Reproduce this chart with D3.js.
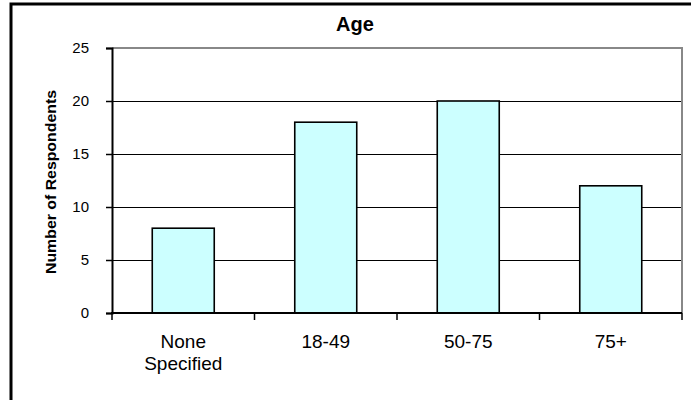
<!DOCTYPE html>
<html>
<head>
<meta charset="utf-8">
<script src="https://cdn.jsdelivr.net/npm/d3@7"></script>
<style>
  html, body { margin: 0; padding: 0; background: #fff; }
  svg { display: block; }
  text { font-family: Arial, "Liberation Sans", sans-serif; fill: #000; }
</style>
</head>
<body>
<svg id="chart" width="691" height="400"></svg>
<script>
// Survey responses by age group
const categories = ["None Specified", "18-49", "50-75", "75+"];
const respondents = [8, 18, 20, 12];
const yTicks = [0, 5, 10, 15, 20, 25];
const chartTitle = "Age";
const yAxisTitle = "Number of Respondents";

const svg = d3.select("#chart");
const plot = { left: 112, right: 682, top: 48, bottom: 313 };

// Outer chart frame (runs past the right and bottom edges)
svg.append("rect")
  .attr("x", 11).attr("y", 4)
  .attr("width", 700).attr("height", 410)
  .attr("fill", "#fff")
  .attr("stroke", "#000")
  .attr("stroke-width", 3);

const x = d3.scaleBand()
  .domain(categories)
  .range([plot.left, plot.right])
  .padding(0);

const y = d3.scaleLinear()
  .domain([0, 25])
  .range([plot.bottom, plot.top]);

// Horizontal gridlines
svg.append("g")
  .selectAll("line")
  .data(yTicks.filter(d => d > 0 && d < 25))
  .join("line")
  .attr("x1", plot.left).attr("x2", plot.right)
  .attr("y1", d => y(d)).attr("y2", d => y(d))
  .attr("stroke", "#000")
  .attr("stroke-width", 1)
  .attr("shape-rendering", "crispEdges");

// Plot-area border on top and right
svg.append("path")
  .attr("d", `M${plot.left},${y(25)}H${plot.right}V${plot.bottom}`)
  .attr("fill", "none")
  .attr("stroke", "#888")
  .attr("stroke-width", 2);

// Bars
const barW = x.bandwidth() * 0.435;
svg.append("g")
  .selectAll("rect")
  .data(categories)
  .join("rect")
  .attr("x", d => x(d) + (x.bandwidth() - barW) / 2)
  .attr("y", (d, i) => y(respondents[i]))
  .attr("width", barW)
  .attr("height", (d, i) => y(0) - y(respondents[i]))
  .attr("fill", "#CCFFFF")
  .attr("stroke", "#000")
  .attr("stroke-width", 1.6);

// Y axis
const yAxis = svg.append("g")
  .attr("transform", `translate(${plot.left},0)`)
  .call(d3.axisLeft(y).tickValues(yTicks).tickSize(6).tickPadding(17));
yAxis.select(".domain").attr("stroke", "#000").attr("stroke-width", 2);
yAxis.selectAll(".tick line").attr("stroke", "#000").attr("stroke-width", 1.5);
yAxis.selectAll(".tick text")
  .style("font-family", "Arial, 'Liberation Sans', sans-serif")
  .style("font-size", "15px");

// X axis: ticks sit on the category boundaries
const boundaries = categories.map(c => x(c)).concat([plot.right]);
svg.append("line")
  .attr("x1", plot.left - 1).attr("x2", plot.right)
  .attr("y1", plot.bottom).attr("y2", plot.bottom)
  .attr("stroke", "#000").attr("stroke-width", 2);
svg.append("g")
  .selectAll("line")
  .data(boundaries)
  .join("line")
  .attr("x1", d => d).attr("x2", d => d)
  .attr("y1", plot.bottom).attr("y2", plot.bottom + 7)
  .attr("stroke", "#000").attr("stroke-width", 1.5);

// Category labels, wrapped on spaces for the long one
svg.append("g")
  .selectAll("text")
  .data(categories)
  .join("text")
  .attr("text-anchor", "middle")
  .style("font-size", "19px")
  .each(function (d) {
    const lines = d === "None Specified" ? ["None", "Specified"] : [d];
    const t = d3.select(this);
    lines.forEach((ln, k) => {
      t.append("tspan")
        .attr("x", x(d) + x.bandwidth() / 2)
        .attr("y", 348 + k * 22)
        .text(ln);
    });
  });

// Chart title
svg.append("text")
  .attr("x", 355).attr("y", 31)
  .attr("text-anchor", "middle")
  .style("font-size", "20px")
  .style("font-weight", "bold")
  .text(chartTitle);

// Y axis title
svg.append("text")
  .attr("transform", `translate(56,182) rotate(-90)`)
  .attr("text-anchor", "middle")
  .attr("textLength", 184)
  .attr("lengthAdjust", "spacingAndGlyphs")
  .style("font-size", "14px")
  .style("font-weight", "bold")
  .text(yAxisTitle);
</script>
</body>
</html>
